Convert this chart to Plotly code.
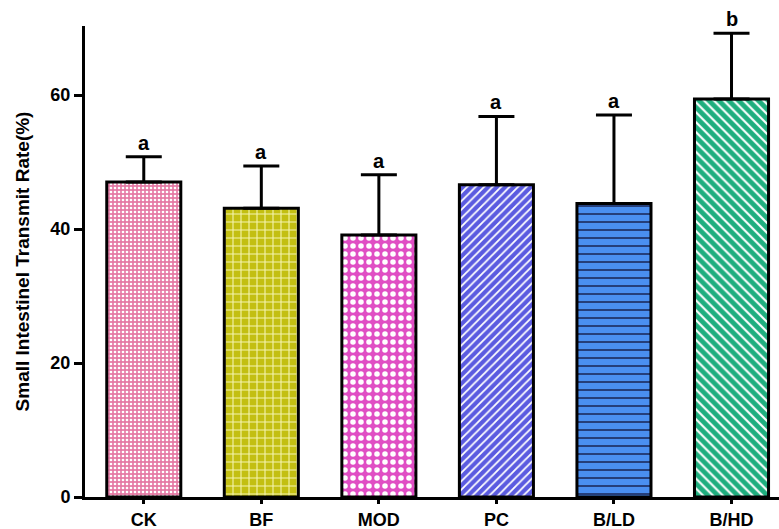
import plotly.graph_objects as go

categories = ["CK", "BF", "MOD", "PC", "B/LD", "B/HD"]
means = [47.0, 43.1, 39.1, 46.6, 43.8, 59.4]
sds = [3.8, 6.3, 9.0, 10.2, 13.2, 9.8]
letters = ["a", "a", "a", "a", "a", "b"]
y_ticks = [0, 20, 40, 60]

bg_colors = ["#e57aa5", "#c3bf12", "#e04ec4", "#5b5be0", "#4a8ff0", "#1fae7e"]
fg_colors = ["#ffffff", "#f6f5b0", "#ffffff", "#ffffff", "#1b2a5c", "#ffffff"]
shapes = [".", "+", ".", "/", "-", "\\"]
sizes = [4, 8, 8, 6, 8, 7]
solidity = [0.35, 0.25, 0.38, 0.3, 0.2, 0.3]

FONT = "Liberation Sans, Arial, sans-serif"

fig = go.Figure()
for i, c in enumerate(categories):
    fig.add_trace(go.Bar(
        x=[c],
        y=[means[i]],
        width=0.63,
        marker=dict(
            color=bg_colors[i],
            line=dict(color="black", width=3),
            pattern=dict(shape=shapes[i], fgcolor=fg_colors[i],
                         bgcolor=bg_colors[i], size=sizes[i],
                         solidity=solidity[i], fillmode="replace",
                         fgopacity=1),
        ),
        error_y=dict(type="data", array=[sds[i]], arrayminus=[0],
                     symmetric=False, color="black", thickness=3, width=18),
        showlegend=False,
    ))

for c, m, s, L in zip(categories, means, sds, letters):
    fig.add_annotation(x=c, y=m + s, text=L, showarrow=False,
                       yanchor="bottom", yshift=1,
                       font=dict(family=FONT, size=20, color="black", weight="bold"))

fig.update_layout(
    width=779, height=529,
    margin=dict(l=85, r=0, t=26, b=32),
    barmode="overlay",
    paper_bgcolor="white", plot_bgcolor="white",
    font=dict(family=FONT, color="black"),
)
fig.update_xaxes(
    range=[-0.5, 5.404],
    categoryorder="array", categoryarray=categories,
    automargin=False,
    showline=True, linecolor="black", linewidth=3,
    ticks="outside", ticklen=4, tickwidth=3, tickcolor="black",
    tickfont=dict(family=FONT, size=18, weight="bold"),
    showgrid=False, zeroline=False,
)
fig.update_yaxes(
    range=[0, 70.3],
    automargin=False,
    tickvals=y_ticks,
    showline=True, linecolor="black", linewidth=3,
    ticks="outside", ticklen=8, tickwidth=3, tickcolor="black",
    tickfont=dict(family=FONT, size=18, weight="bold"),
    title=dict(text="Small Intestinel Transmit Rate(%)",
               font=dict(family=FONT, size=19, weight="bold"), standoff=16),
    showgrid=False, zeroline=False,
)

fig.write_html("out.html", config={"displayModeBar": False},
               post_script="document.body.style.margin='0';document.body.style.overflow='hidden';")
